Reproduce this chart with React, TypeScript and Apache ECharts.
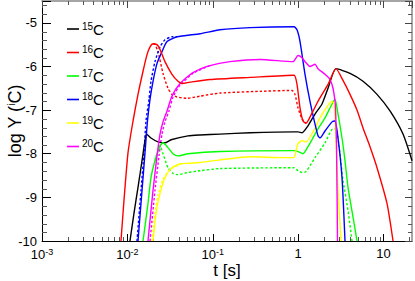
import React, { useEffect, useRef } from "react";
import * as echarts from "echarts";

// ---- data: [t (s), log Y] ----
const c15: number[][] = [
  [0.01072, -10], [0.01195, -9.36], [0.01331, -8.77], [0.01483, -8.16], [0.01607, -7.7],
  [0.01674, -7.55], [0.01888, -7.64], [0.02283, -7.73], [0.02754, -7.75], [0.03243, -7.68],
  [0.05129, -7.59], [0.07079, -7.57], [0.1213, -7.55], [0.2729, -7.52], [0.893, -7.5],
  [0.995, -7.5], [1.108, -7.52], [1.302, -7.36], [1.573, -7.09], [1.9, -6.86],
  [2.234, -6.5], [2.771, -6.05], [4.043, -6.16], [5.74, -6.34], [8.371, -6.64],
  [11.88, -7.02], [16.87, -7.55], [21.51, -8.16],
];
const c16: number[][] = [
  [0.00841, -10], [0.00912, -9.07], [0.01016, -7.98], [0.01164, -7.25], [0.01331, -6.64],
  [0.01524, -6.11], [0.01698, -5.73], [0.01841, -5.55], [0.01995, -5.48], [0.02223, -5.5],
  [0.0241, -5.61], [0.02754, -5.89], [0.03327, -6.18], [0.03917, -6.34], [0.04355, -6.39],
  [0.05408, -6.36], [0.09268, -6.3], [0.2729, -6.25], [0.893, -6.2], [0.968, -6.41],
  [1.05, -6.95], [1.138, -7.25], [1.234, -7.3], [1.45, -7.07], [1.705, -6.8],
  [2.234, -6.41], [2.771, -6.05], [3.346, -6.32], [4.043, -6.64], [4.881, -7.0],
  [5.74, -7.41], [6.929, -7.84], [8.371, -8.32], [10.96, -9.14], [12.89, -10],
];
const c16b: number[][] = [
  [0.01995, -5.48], [0.02104, -5.5], [0.02283, -5.66], [0.02612, -6.16], [0.02985, -6.5],
  [0.03327, -6.64], [0.03811, -6.7], [0.04989, -6.73], [0.07079, -6.68], [0.1213, -6.61],
  [0.3573, -6.57], [0.846, -6.55], [0.917, -6.64], [0.995, -6.95], [1.108, -7.2], [1.234, -7.3],
];
const c17: number[][] = [
  [0.01524, -10], [0.01742, -9.14], [0.01888, -8.55], [0.02104, -8.16], [0.0241, -7.82],
  [0.02612, -7.75], [0.02985, -7.86], [0.0342, -8.0], [0.03917, -8.05], [0.05129, -8.0],
  [0.1213, -7.95], [0.893, -7.93], [0.995, -7.95], [1.138, -8.0], [1.302, -7.84],
  [1.45, -7.68], [1.705, -7.43], [2.06, -7.18], [2.488, -6.86], [2.698, -6.75],
  [2.924, -7.09], [3.258, -7.64], [3.532, -8.16], [3.83, -8.77], [4.383, -9.45], [4.881, -10],
];
const c17b: number[][] = [
  [0.02104, -8.16], [0.0241, -7.82], [0.02612, -8.0], [0.02985, -8.32], [0.0342, -8.45],
  [0.03917, -8.48], [0.05129, -8.43], [0.07079, -8.39], [0.1213, -8.34], [0.893, -8.32],
  [0.995, -8.39], [1.108, -8.43], [1.234, -8.41], [1.573, -8.09], [2.06, -7.75],
  [2.556, -7.43], [2.771, -7.43], [2.924, -7.66], [3.087, -8.0], [3.346, -8.61],
  [3.83, -9.3], [4.266, -10],
];
const c18: number[][] = [
  [0.01331, -10], [0.01483, -8.84], [0.01607, -7.98], [0.01718, -7.25], [0.01841, -6.75],
  [0.01995, -6.34], [0.02223, -5.93], [0.02541, -5.66], [0.02911, -5.43], [0.03811, -5.32],
  [0.07079, -5.25], [0.1213, -5.16], [0.2729, -5.11], [0.893, -5.09], [0.968, -5.16],
  [1.05, -5.43], [1.201, -6.18], [1.374, -6.8], [1.573, -7.32], [1.705, -7.59],
  [1.8, -7.64], [2.06, -7.48], [2.488, -7.27], [2.698, -7.25], [2.924, -7.64],
  [3.258, -8.55], [3.532, -10],
];
const c18b: number[][] = [
  [0.01295, -10], [0.01443, -8.84], [0.01564, -7.98], [0.01651, -7.25], [0.01791, -6.75],
  [0.01888, -6.34], [0.02104, -5.89], [0.0241, -5.55], [0.02754, -5.39], [0.03327, -5.32],
  [0.03811, -5.32],
];
const c19: number[][] = [
  [0.01995, -10], [0.02163, -9.36], [0.0241, -8.91], [0.02754, -8.55], [0.03243, -8.34],
  [0.04246, -8.23], [0.05129, -8.22], [0.07079, -8.2], [0.1213, -8.14], [0.2729, -8.07],
  [0.6637, -8.09], [0.893, -8.09], [0.942, -7.93], [0.995, -7.77], [1.108, -7.7],
  [1.234, -7.73], [1.49, -7.5], [1.8, -7.18], [2.234, -6.89], [2.488, -6.8],
  [2.626, -6.86], [2.771, -7.7], [2.924, -8.84], [3.171, -10],
];
const c19b: number[][] = [
  [0.01941, -10], [0.02104, -9.36], [0.02283, -8.95], [0.02612, -8.59], [0.03155, -8.36],
  [0.04246, -8.23],
];
const c20: number[][] = [
  [0.01742, -10], [0.01995, -8.84], [0.02223, -8.05], [0.0241, -7.55], [0.02612, -7.27],
  [0.02911, -7.02], [0.03327, -6.68], [0.0413, -6.39], [0.05861, -6.14], [0.09268, -5.98],
  [0.1589, -5.89], [0.3573, -5.84], [0.869, -5.89], [0.995, -5.75], [1.108, -5.8],
  [1.201, -5.89], [1.374, -6.0], [1.573, -5.95], [1.705, -6.05], [2.06, -6.18],
  [2.357, -6.3], [2.556, -6.5], [2.698, -6.8], [2.734, -6.95], [2.809, -7.77], [2.885, -10],
];
const c20b: number[][] = [
  [0.01841, -10], [0.02104, -8.84], [0.02344, -8.05], [0.02541, -7.55], [0.02754, -7.27],
  [0.03069, -7.02], [0.0342, -6.7], [0.0413, -6.43], [0.05861, -6.16], [0.09268, -5.98],
];

const X_MIN = 0.001;
const X_MAX = 21.5;
const Y_MIN = -10;
const Y_MAX = -4.5;
const xMinorTicks = [
  0.002, 0.003, 0.004, 0.005, 0.006, 0.007, 0.008, 0.009,
  0.02, 0.03, 0.04, 0.05, 0.06, 0.07, 0.08, 0.09,
  0.2, 0.3, 0.4, 0.5, 0.6, 0.7, 0.8, 0.9,
  2, 3, 4, 5, 6, 7, 8, 9, 20,
];
const yMinorTicks = [
  -9.8, -9.6, -9.4, -9.2, -8.8, -8.6, -8.4, -8.2, -7.8, -7.6, -7.4, -7.2,
  -6.8, -6.6, -6.4, -6.2, -5.8, -5.6, -5.4, -5.2, -4.8, -4.6,
];
const legendNames = ["15C", "16C", "17C", "18C", "19C", "20C"];

const BLACK = "#000000";
const RED = "#ff0000";
const GREEN = "#00ff00";
const BLUE = "#0000ff";
const YELLOW = "#ffff00";
const MAGENTA = "#ff00ff";

function lineSeries(name: string, data: number[][], color: string, dashed: boolean, z: number) {
  return {
    name,
    type: "line",
    data,
    showSymbol: false,
    symbol: "none",
    clip: true,
    smooth: 0.2,
    z,
    itemStyle: { color },
    lineStyle: { color, width: 1.4, type: dashed ? [2.5, 2] : "solid" },
  };
}

export default function App() {
  const ref = useRef<HTMLDivElement>(null);
  useEffect(() => {
    if (!ref.current) return;
    const chart = echarts.init(ref.current, undefined, { renderer: "svg" });
    const font = "'Liberation Sans', Arial, sans-serif";
    const xLabelFmt = (v: number) => {
      const l = Math.log10(v);
      const n = Math.round(l);
      if (Math.abs(l - n) > 1e-6) return "";
      if (n === 0) return "1";
      if (n === 1) return "10";
      return "10{sup|" + n + "}";
    };
    const option: any = {
      animation: false,
      textStyle: { fontFamily: font, color: "#000" },
      grid: {
        left: 42,
        top: 1,
        width: 370,
        height: 240,
        containLabel: false,
        outerBoundsMode: "none",
      },
      legend: {
        data: legendNames,
        orient: "vertical",
        left: 62,
        top: 16,
        itemGap: 8,
        itemWidth: 12,
        itemHeight: 1.6,
        icon: "rect",
        selectedMode: false,
        formatter: (name: string) => "{sup|" + name.slice(0, 2) + "}{c|C}",
        textStyle: {
          fontFamily: font,
          padding: [0, 0, 0, -2],
          rich: {
            sup: { fontSize: 10, verticalAlign: "top", lineHeight: 16, color: "#000", fontFamily: font },
            c: { fontSize: 15, lineHeight: 16, color: "#000", fontFamily: font },
          },
        },
      },
      xAxis: [
        {
          type: "log",
          logBase: 10,
          min: X_MIN,
          max: X_MAX,
          position: "bottom",
          name: "t [s]",
          nameLocation: "middle",
          nameGap: 21,
          nameMoveOverlap: false,
          nameTextStyle: { fontSize: 17, fontFamily: font, color: "#000" },
          axisLine: { lineStyle: { color: "#000", width: 1 } },
          axisTick: { inside: true, length: 7, lineStyle: { color: "#000" } },
          splitLine: { show: false },
          axisLabel: {
            formatter: xLabelFmt,
            margin: 6,
            fontSize: 13,
            color: "#000",
            fontFamily: font,
            showMaxLabel: false,
            rich: {
              sup: { fontSize: 9, verticalAlign: "top", lineHeight: 14, color: "#000", fontFamily: font },
            },
          },
        },
        {
          type: "log",
          logBase: 10,
          min: X_MIN,
          max: X_MAX,
          position: "top",
          axisLine: { lineStyle: { color: "#888", width: 1.5 } },
          axisTick: { inside: true, length: 7, lineStyle: { color: "#444" } },
          axisLabel: { show: false },
          splitLine: { show: false },
        },
      ],
      yAxis: [
        {
          type: "value",
          min: Y_MIN,
          max: Y_MAX,
          interval: 1,
          position: "left",
          name: "log Y ({sup|i}C)",
          nameLocation: "middle",
          nameRotate: 90,
          nameGap: 18,
          nameMoveOverlap: false,
          nameTextStyle: {
            fontSize: 18,
            fontFamily: font,
            color: "#000",
            rich: { sup: { fontSize: 10, verticalAlign: "top", color: "#000", fontFamily: font } },
          },
          axisLine: { lineStyle: { color: "#000", width: 1 } },
          axisTick: { inside: true, length: 9, lineStyle: { color: "#000" } },
          splitLine: { show: false },
          axisLabel: {
            fontSize: 13,
            margin: 5,
            color: "#000",
            fontFamily: font,
            formatter: (v: number) => (Number.isInteger(v) ? String(v) : ""),
          },
        },
        {
          type: "value",
          min: Y_MIN,
          max: Y_MAX,
          interval: 1,
          position: "right",
          axisLine: { lineStyle: { color: "#888", width: 1.5 } },
          axisTick: { inside: true, length: 7, lineStyle: { color: "#444" } },
          axisLabel: { show: false },
          splitLine: { show: false },
        },
      ],
      series: [
        {
          type: "custom",
          name: "xminor",
          silent: true,
          data: xMinorTicks.map((t) => [t, Y_MIN]),
          encode: { x: 0, y: 1 },
          renderItem: (_p: any, api: any) => {
            const t = api.value(0);
            const b = api.coord([t, Y_MIN]);
            const tp = api.coord([t, Y_MAX]);
            const x = Math.round(b[0]) + 0.5;
            const st = { stroke: "#555", lineWidth: 1 };
            return {
              type: "group",
              children: [
                { type: "line", shape: { x1: x, y1: b[1], x2: x, y2: b[1] - 4 }, style: st },
                { type: "line", shape: { x1: x, y1: tp[1], x2: x, y2: tp[1] + 4 }, style: st },
              ],
            };
          },
        },
        {
          type: "custom",
          name: "yminor",
          silent: true,
          data: yMinorTicks.map((v) => [X_MIN, v]),
          encode: { x: 0, y: 1 },
          renderItem: (_p: any, api: any) => {
            const v = api.value(1);
            const l = api.coord([X_MIN, v]);
            const r = api.coord([X_MAX, v]);
            const y = Math.round(l[1]) + 0.5;
            const st = { stroke: "#555", lineWidth: 1 };
            return {
              type: "group",
              children: [
                { type: "line", shape: { x1: l[0], y1: y, x2: l[0] + 5, y2: y }, style: st },
                { type: "line", shape: { x1: r[0], y1: y, x2: r[0] - 4, y2: y }, style: st },
              ],
            };
          },
        },
        lineSeries("16C dashed", c16b, RED, true, 2),
        lineSeries("17C dashed", c17b, GREEN, true, 2),
        lineSeries("18C dashed", c18b, BLUE, true, 2),
        lineSeries("19C dashed", c19b, YELLOW, true, 2),
        lineSeries("20C dashed", c20b, MAGENTA, true, 2),
        lineSeries("15C", c15, BLACK, false, 3),
        lineSeries("17C", c17, GREEN, false, 3),
        lineSeries("19C", c19, YELLOW, false, 3),
        lineSeries("18C", c18, BLUE, false, 3),
        lineSeries("20C", c20, MAGENTA, false, 3),
        lineSeries("16C", c16, RED, false, 4),
      ],
    };
    chart.setOption(option);
    return () => chart.dispose();
  }, []);
  return (
    <div
      ref={ref}
      style={{ position: "fixed", left: 0, top: 0, width: 415, height: 281, background: "#fff" }}
    />
  );
}
